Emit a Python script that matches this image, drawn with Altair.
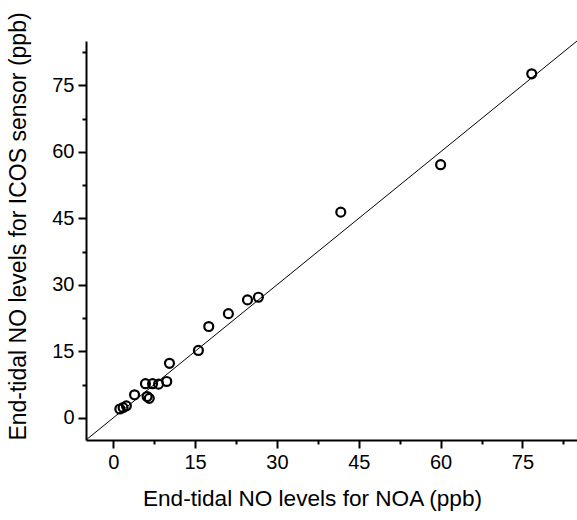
import altair as alt
import pandas as pd

noa = [1.2, 1.8, 2.4, 3.9, 5.9, 6.2, 6.6, 7.2, 8.3, 9.8, 10.3, 15.6, 17.5, 21.1, 24.6, 26.6, 41.7, 60.0, 76.7]
icos = [2.0, 2.3, 2.7, 5.2, 7.7, 4.8, 4.4, 7.7, 7.6, 8.2, 12.3, 15.2, 20.6, 23.5, 26.6, 27.2, 46.4, 57.1, 77.6]
major_ticks = [0, 15, 30, 45, 60, 75]
minor_ticks = [7.5, 22.5, 37.5, 52.5, 67.5, 82.5]
line_ends = [-5, 85]
domain = [-5, 85]

pts = pd.DataFrame({"x": noa, "y": icos})
ln = pd.DataFrame({"x": line_ends, "y": line_ends})

FONT = "Liberation Sans"
xs = alt.Scale(domain=domain, nice=False, zero=False)
ys = alt.Scale(domain=domain, nice=False, zero=False)

major_x = alt.Axis(values=major_ticks, orient="bottom", title="End-tidal NO levels for NOA (ppb)",
                   grid=False, domainColor="black", domainWidth=2, tickColor="black", tickWidth=2,
                   tickSize=8, labelFontSize=20, labelFont=FONT, labelColor="black", labelPadding=4,
                   titleFont=FONT, titleFontSize=22.6, titleFontWeight="normal", titleColor="black",
                   titleAlign="center", titleBaseline="alphabetic", titleX=226, titleY=65)
major_y = alt.Axis(values=major_ticks, orient="left", title="End-tidal NO levels for ICOS sensor (ppb)",
                   grid=False, domainColor="black", domainWidth=2, tickColor="black", tickWidth=2,
                   tickSize=8, labelFontSize=20, labelFont=FONT, labelColor="black", labelPadding=4,
                   titleFont=FONT, titleFontSize=23, titleFontWeight="normal", titleColor="black",
                   titleAlign="center", titleBaseline="alphabetic", titleAngle=270, titleX=-61, titleY=185)
minor_x = alt.Axis(values=minor_ticks, orient="bottom", title=None, labels=False, domain=False,
                   grid=False, tickColor="black", tickWidth=2, tickSize=4)
minor_y = alt.Axis(values=minor_ticks, orient="left", title=None, labels=False, domain=False,
                   grid=False, tickColor="black", tickWidth=2, tickSize=4)

points = alt.Chart(pts).mark_point(shape="circle", filled=False, color="black", strokeWidth=2.2,
                                   size=80, opacity=1).encode(
    x=alt.X("x:Q", scale=xs, axis=major_x),
    y=alt.Y("y:Q", scale=ys, axis=major_y),
)
line = alt.Chart(ln).mark_line(color="black", strokeWidth=1).encode(
    x=alt.X("x:Q", scale=xs, axis=minor_x),
    y=alt.Y("y:Q", scale=ys, axis=minor_y),
)

chart = alt.layer(line, points).resolve_axis(x="independent", y="independent").properties(
    width=491, height=399,
    autosize=alt.AutoSizeParams(type="none"),
    padding={"left": 86, "top": 41, "right": 0, "bottom": 80},
    background="white",
).configure_view(stroke=None)

chart.save("out.html", embed_options={"renderer": "svg", "actions": False})
